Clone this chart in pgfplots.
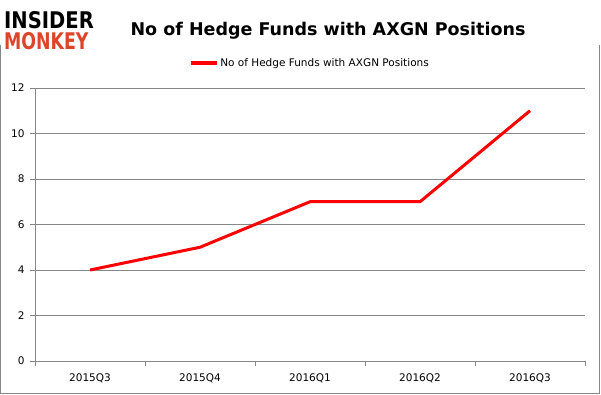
\documentclass[border=0pt]{standalone}
\usepackage{pgfplots}
\pgfplotsset{compat=1.18}
\usepackage{fontspec}
\setmainfont{DejaVu Sans}
\definecolor{gridgray}{RGB}{134,134,134}
\definecolor{mred}{RGB}{221,69,43}
\begin{document}
\begin{tikzpicture}[x=1pt,y=1pt]
\useasboundingbox (0,0) rectangle (601,395);
% frame
\draw[gridgray,line width=1pt] (0.5,350) -- (0.5,1.5) -- (599.5,1.5) -- (599.5,350);
% logo
\node[anchor=west,inner sep=0pt,font=\bfseries\fontsize{17}{17}\selectfont] at (4,375) {\scalebox{1.15}[1.35]{INSIDER}};
\node[anchor=west,inner sep=0pt,font=\bfseries\fontsize{17}{17}\selectfont,text=mred] at (4,354) {\scalebox{1.02}[1.35]{MONKEY}};
% title
\node[anchor=center,inner sep=0pt,font=\bfseries\fontsize{17.5}{18}\selectfont] at (328,364) {No of Hedge Funds with AXGN Positions};
\begin{axis}[
  at={(35pt,34pt)}, anchor=south west,
  scale only axis, width=550pt, height=273pt,
  xmin=-0.5, xmax=4.5, ymin=0, ymax=12,
  axis lines*=left,
  axis line style={gridgray,line width=0.8pt},
  ytick={0,2,...,12},
  ymajorgrids, grid style={gridgray,line width=0.8pt},
  xtick={0,1,2,3,4},
  xticklabels={2015Q3,2015Q4,2016Q1,2016Q2,2016Q3},
  major x tick style={draw=none},
  minor xtick={-0.5,0.5,1.5,2.5,3.5,4.5},
  minor x tick style={gridgray,line width=0.8pt},
  x tick style={gridgray},
  y tick style={gridgray,line width=0.8pt},
  tick align=outside,
  major tick length=5pt, minor tick length=5pt,
  tick label style={font=\fontsize{10.5}{12}\selectfont},
  xticklabel style={yshift=-4pt},
  yticklabel style={xshift=-2pt},
  /pgf/number format/assume math mode=true,
  legend style={at={(0.5,1.0)}, anchor=south, yshift=18pt, draw=none, fill=none,
    font=\fontsize{10.5}{12}\selectfont, inner sep=0pt},
  legend image code/.code={\draw[#1,line width=3.5pt] (-0.1cm,0cm) -- (0.8cm,0cm);},
  clip=false,
]
\addplot[color=red, line width=3pt, line join=round] coordinates {(0,4) (1,5) (2,7) (3,7) (4,11)};
\addlegendentry{No of Hedge Funds with AXGN Positions}
\end{axis}
\end{tikzpicture}
\end{document}
